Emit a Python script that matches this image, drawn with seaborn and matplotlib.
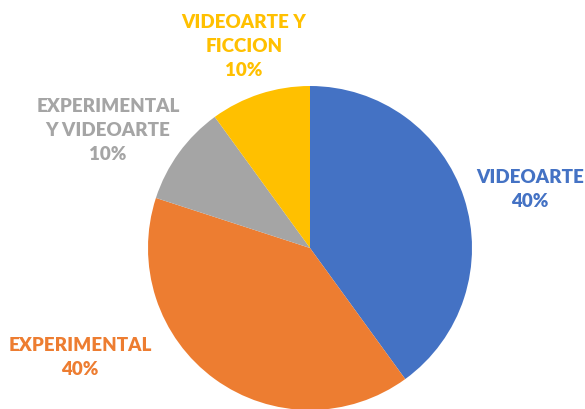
import matplotlib.pyplot as plt
import seaborn as sns

categories = ["VIDEOARTE", "EXPERIMENTAL", "EXPERIMENTAL\nY VIDEOARTE", "VIDEOARTE Y\nFICCION"]
shares = [40, 40, 10, 10]
colors = ["#4472C4", "#ED7D31", "#A5A5A5", "#FFC000"]

# label anchor points in pixel coords (x, y from top)
label_pos = [(530, 190), (80, 358), (108, 131), (244, 47)]

sns.set_theme(style="white")
plt.rcParams['font.family'] = ['Lato', 'DejaVu Sans']

fig = plt.figure(figsize=(5.85, 4.1), dpi=100)
ax = fig.add_axes([0, 0, 1, 1])

ax.pie(shares, colors=colors, startangle=90, counterclock=False,
       center=(310, 410 - 249), radius=162, frame=True,
       wedgeprops=dict(linewidth=0))
ax.set_xlim(0, 585)
ax.set_ylim(0, 410)
ax.set_aspect('equal')
ax.axis('off')

for cat, val, col, (x, y) in zip(categories, shares, colors, label_pos):
    ax.text(x, 410 - y, f"{cat}\n{val}%", color=col, fontsize=13.5, fontweight='heavy',
            ha='center', va='center', linespacing=1.5)

fig.savefig("out.png", dpi=100)
plt.close()
